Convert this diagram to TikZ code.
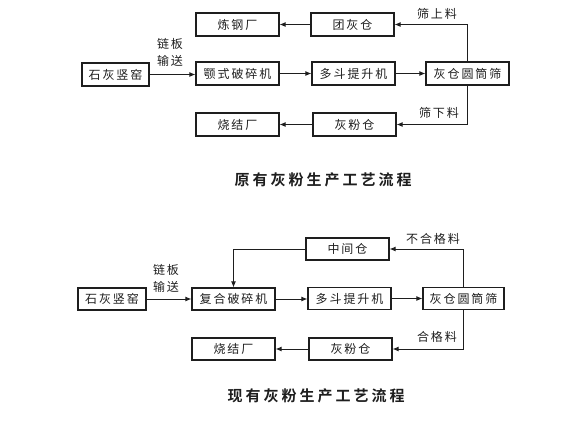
\documentclass[tikz,border=0pt]{standalone}
\usepackage{fontspec}
\setmainfont{Noto Sans CJK SC}
\newfontfamily\cjk[LetterSpace=16]{Noto Sans CJK SC}
\newfontfamily\cjkt[LetterSpace=20]{Noto Sans CJK SC Bold}
\usetikzlibrary{arrows.meta}
\definecolor{ink}{HTML}{1E1E1E}
\begin{document}
\begin{tikzpicture}[x=1pt,y=-1pt,
  box/.style={draw=ink,line width=1.2pt,minimum height=23pt,inner sep=0pt,
    font=\cjk\fontsize{12}{14}\selectfont,text=ink},
  wbox/.style={box,minimum width=83pt},
  kbox/.style={box,minimum width=67pt},
  conn/.style={draw=ink,line width=0.9pt,-{Latex[length=6pt,width=5pt]}},
  lbl/.style={font=\cjk\fontsize{12}{14}\selectfont,text=ink,inner sep=0pt},
  ttl/.style={font=\cjkt\fontsize{15}{17}\selectfont,text=ink,inner sep=0pt}]
\useasboundingbox (0,0) rectangle (574,421);
% ---------- top diagram ----------
\node[kbox] (kiln1) at (115.5,74.5) {石灰竖窑};
\node[wbox] (crush1) at (237.5,73.5) {颚式破碎机};
\node[wbox] (steel1) at (237.5,24.5) {炼钢厂};
\node[wbox] (sinter1) at (237.5,124.5) {烧结厂};
\node[wbox] (tuan1) at (352.5,24.5) {团灰仓};
\node[wbox] (lift1) at (353.5,73.5) {多斗提升机};
\node[wbox] (screen1) at (467.5,73.5) {灰仓圆筒筛};
\node[wbox] (powder1) at (354.5,124.5) {灰粉仓};
\draw[conn] (kiln1.east) -- (crush1.west |- kiln1.east);
\draw[conn] (crush1) -- (lift1);
\draw[conn] (lift1) -- (screen1);
\draw[conn] (screen1.north) |- (tuan1.east);
\draw[conn] (tuan1.west) -- (steel1.east);
\draw[conn] (screen1.south) |- (powder1.east);
\draw[conn] (powder1.west) -- (sinter1.east);
\node[lbl] (t1a) at (170,44) {链板};
\node[lbl] (t1b) at (170,61) {输送};
\node[lbl] (t1c) at (437,14) {筛上料};
\node[lbl] (t1d) at (439,113) {筛下料};
\node[ttl] (title1) at (323,180) {原有灰粉生产工艺流程};
% ---------- bottom diagram ----------
\node[box,minimum width=68pt,minimum height=22pt] (kiln2) at (112,299) {石灰竖窑};
\node[wbox,minimum height=22pt] (crush2) at (233.5,299) {复合破碎机};
\node[wbox,minimum height=22pt] (sinter2) at (233.5,349) {烧结厂};
\node[wbox,minimum height=22pt] (mid2) at (347.5,249) {中间仓};
\node[wbox,minimum height=22pt] (lift2) at (349.5,298.5) {多斗提升机};
\node[box,minimum width=81pt,minimum height=22pt] (screen2) at (463.5,298.5) {灰仓圆筒筛};
\node[wbox,minimum height=22pt] (powder2) at (350.5,349) {灰粉仓};
\draw[conn] (kiln2) -- (crush2);
\draw[conn] (crush2.east) -- (lift2.west |- crush2.east);
\draw[conn] (lift2) -- (screen2);
\draw[conn] (screen2.north) |- (mid2.east);
\draw[conn] (mid2.west) -| (crush2.north);
\draw[conn] (screen2.south) |- (powder2.east);
\draw[conn] (powder2.west) -- (sinter2.east);
\node[lbl] (t2a) at (166,270) {链板};
\node[lbl] (t2b) at (166,287) {输送};
\node[lbl] (t2c) at (433,239) {不合格料};
\node[lbl] (t2d) at (437,337) {合格料};
\node[ttl] (title2) at (316,396) {现有灰粉生产工艺流程};
\end{tikzpicture}
\end{document}
